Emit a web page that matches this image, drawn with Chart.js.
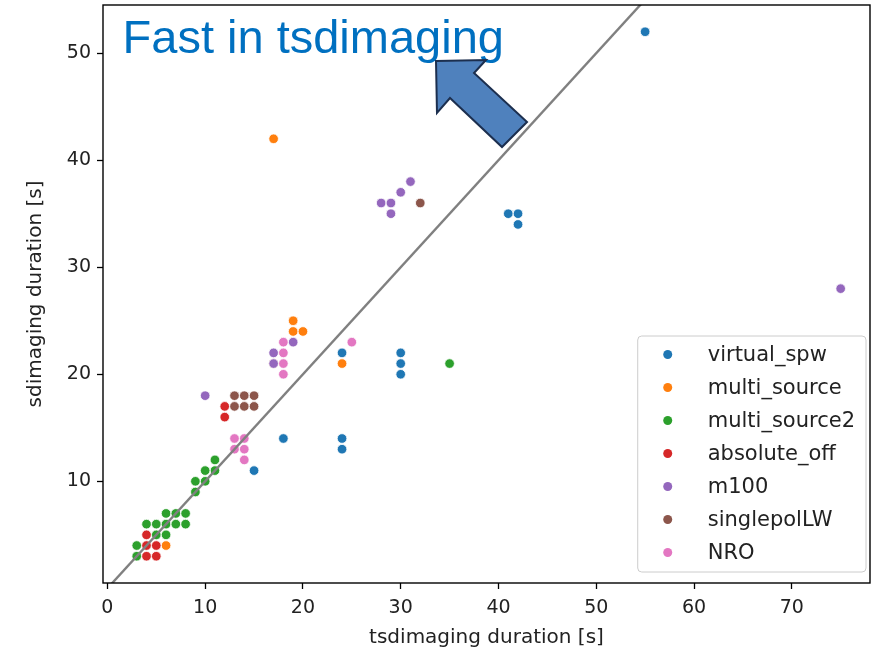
<!DOCTYPE html>
<html>
<head>
<meta charset="utf-8">
<script src="https://cdn.jsdelivr.net/npm/chart.js@4"></script>
<style>
    body { margin: 0; background: #fff; overflow: hidden; }
    #wrap { width: 872px; height: 650px; }
    #durations { display: block; }
</style>
</head>
<body>
<div id="wrap"><canvas id="durations"></canvas></div>
<script>
// series names and colours (matplotlib tab10)
const seriesNames = ['virtual_spw', 'multi_source', 'multi_source2', 'absolute_off', 'm100', 'singlepolLW', 'NRO'];
const seriesColors = ['#1f77b4', '#ff7f0e', '#2ca02c', '#d62728', '#9467bd', '#8c564b', '#e377c2'];

// tsdimaging (x) / sdimaging (y) durations in seconds
const virtualSpwX = [55, 41, 42, 42, 24, 30, 30, 30, 18, 24, 24, 15];
const virtualSpwY = [52, 35, 35, 34, 22, 22, 21, 20, 14, 14, 13, 11];

const multiSourceX = [17, 19, 19, 20, 24, 17, 6];
const multiSourceY = [42, 25, 24, 24, 21, 21, 4];

const multiSource2X = [35, 11, 11, 10, 9, 10, 9, 6, 7, 8, 4, 5, 6, 7, 8, 5, 6, 3, 3];
const multiSource2Y = [21, 12, 11, 11, 10, 10, 9, 7, 7, 7, 6, 6, 6, 6, 6, 5, 5, 4, 3];

const absoluteOffX = [12, 12, 4, 4, 5, 4, 5];
const absoluteOffY = [17, 16, 5, 4, 4, 3, 3];

const m100X = [28, 29, 29, 30, 31, 75, 19, 17, 17, 10];
const m100Y = [36, 36, 35, 37, 38, 28, 23, 22, 21, 18];

const singlepolX = [32, 13, 14, 15, 13, 14, 15];
const singlepolY = [36, 18, 18, 18, 17, 17, 17];

const nroX = [25, 18, 18, 18, 18, 13, 14, 13, 14, 14];
const nroY = [23, 23, 22, 21, 20, 14, 14, 13, 13, 12];

// y = x reference line end points
const diagonal = [0, 80];

const xTicks = [0, 10, 20, 30, 40, 50, 60, 70];
const yTicks = [10, 20, 30, 40, 50];

const seriesX = [virtualSpwX, multiSourceX, multiSource2X, absoluteOffX, m100X, singlepolX, nroX];
const seriesY = [virtualSpwY, multiSourceY, multiSource2Y, absoluteOffY, m100Y, singlepolY, nroY];

const FONT = 'DejaVu Sans';

function toPoints(xs, ys) {
    return xs.map((x, i) => ({x: x, y: ys[i]}));
}

let datasets = seriesNames.map((name, i) => ({
    type: 'scatter',
    label: name,
    data: toPoints(seriesX[i], seriesY[i]),
    backgroundColor: seriesColors[i],
    borderColor: '#ffffff',
    borderWidth: 0.8,
    pointRadius: 4.8,
    order: seriesNames.length - i + 1
}));

datasets.push({
    type: 'line',
    label: 'y = x',
    data: diagonal.map(v => ({x: v, y: v})),
    borderColor: '#808080',
    borderWidth: 2.4,
    pointRadius: 0,
    fill: false,
    order: 0
});

// annotation: text and block arrow, placed in data units
const noteText = 'Fast in tsdimaging';
const notePos = {x: 1.55, y: 50};
const arrowShape = [
    [33.61, 49.27], [38.72, 49.36], [37.50, 48.15], [42.92, 43.57],
    [40.36, 41.23], [35.04, 45.81], [33.71, 44.41]
];

const framePlugin = {
    id: 'frame',
    afterDatasetsDraw(chart) {
        const {ctx, chartArea: a} = chart;
        ctx.save();
        ctx.strokeStyle = '#000';
        ctx.lineWidth = 1.4;
        ctx.strokeRect(a.left, a.top, a.right - a.left, a.bottom - a.top);
        ctx.restore();
    }
};

const legendPlugin = {
    id: 'boxLegend',
    afterDraw(chart) {
        const {ctx, chartArea: a} = chart;
        ctx.save();
        ctx.font = '21px "' + FONT + '"';
        let textW = 0;
        seriesNames.forEach(n => { textW = Math.max(textW, ctx.measureText(n).width); });
        const rowH = 33;
        const w = 70 + textW + 11;
        const h = rowH * seriesNames.length + 5;
        const left = a.right - 4 - w;
        const top = a.bottom - 11 - h;

        ctx.beginPath();
        ctx.roundRect(left, top, w, h, 4);
        ctx.fillStyle = 'rgba(255,255,255,0.85)';
        ctx.fill();
        ctx.strokeStyle = '#cccccc';
        ctx.lineWidth = 1;
        ctx.stroke();

        ctx.textBaseline = 'middle';
        seriesNames.forEach((n, i) => {
            const cy = top + 18.5 + i * rowH;
            ctx.beginPath();
            ctx.arc(left + 30, cy, 4.5, 0, Math.PI * 2);
            ctx.fillStyle = seriesColors[i];
            ctx.fill();
            ctx.fillStyle = '#222';
            ctx.fillText(n, left + 70, cy + 1);
        });
        ctx.restore();
    }
};

const notePlugin = {
    id: 'note',
    afterDraw(chart) {
        const {ctx} = chart;
        const xs = chart.scales.x, ys = chart.scales.y;
        ctx.save();
        ctx.fillStyle = '#0070c0';
        ctx.font = '47px "Liberation Sans", Arial, sans-serif';
        ctx.textBaseline = 'alphabetic';
        ctx.fillText(noteText, xs.getPixelForValue(notePos.x), ys.getPixelForValue(notePos.y));

        ctx.beginPath();
        arrowShape.forEach((p, i) => {
            const px = xs.getPixelForValue(p[0]);
            const py = ys.getPixelForValue(p[1]);
            if (i === 0) ctx.moveTo(px, py); else ctx.lineTo(px, py);
        });
        ctx.closePath();
        ctx.fillStyle = '#4f81bd';
        ctx.fill();
        ctx.strokeStyle = '#1c2f4f';
        ctx.lineWidth = 2;
        ctx.lineJoin = 'miter';
        ctx.stroke();
        ctx.restore();
    }
};

const tickFont = {family: FONT, size: 19};
const titleFont = {family: FONT, size: 20};

new Chart(document.getElementById('durations'), {
    data: {datasets: datasets},
    options: {
        responsive: true,
        maintainAspectRatio: false,
        animation: false,
        layout: {autoPadding: false, padding: {top: 5, right: 2, left: 0, bottom: 0}},
        plugins: {
            legend: {display: false},
            tooltip: {enabled: false}
        },
        scales: {
            x: {
                type: 'linear',
                min: -0.45,
                max: 78,
                afterFit: (scale) => {
                    scale.height = 67;
                    scale.paddingLeft = 0;
                    scale.paddingRight = 0;
                },
                afterBuildTicks: (scale) => { scale.ticks = xTicks.map(v => ({value: v})); },
                ticks: {font: tickFont, color: '#222', padding: 8, maxRotation: 0, includeBounds: false},
                grid: {drawOnChartArea: false, drawTicks: true, tickLength: 6, tickWidth: 1.3, tickColor: '#000'},
                border: {display: false},
                title: {display: true, text: 'tsdimaging duration [s]', font: titleFont, color: '#222', padding: {top: 0, bottom: 0}}
            },
            y: {
                type: 'linear',
                min: 0.5,
                max: 54.5,
                afterFit: (scale) => {
                    scale.width = 103;
                    scale.paddingTop = 0;
                    scale.paddingBottom = 0;
                },
                afterBuildTicks: (scale) => { scale.ticks = yTicks.map(v => ({value: v})); },
                ticks: {font: tickFont, color: '#222', padding: 6, includeBounds: false},
                grid: {drawOnChartArea: false, drawTicks: true, tickLength: 6, tickWidth: 1.3, tickColor: '#000'},
                border: {display: false},
                title: {display: true, text: 'sdimaging duration [s]', font: titleFont, color: '#222', padding: {top: 24, bottom: 0}}
            }
        }
    },
    plugins: [framePlugin, legendPlugin, notePlugin]
});
</script>
</body>
</html>
